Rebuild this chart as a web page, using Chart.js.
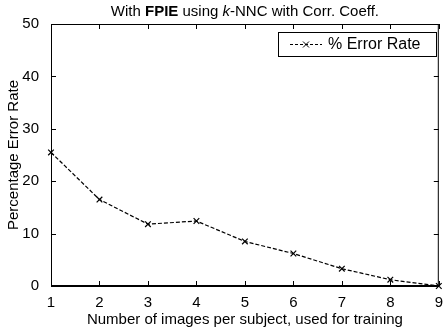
<!DOCTYPE html>
<html>
<head>
<meta charset="utf-8">
<script src="https://cdn.jsdelivr.net/npm/chart.js@4/dist/chart.umd.min.js"></script>
<style>
  body { margin: 0; background: #fff; }
  canvas { display: block; }
</style>
</head>
<body>
<canvas id="errChart" width="444" height="332"></canvas>
<script>
const trainImages = [1, 2, 3, 4, 5, 6, 7, 8, 9];
const errorRate = [25.5, 16.5, 11.8, 12.4, 8.5, 6.2, 3.3, 1.2, 0];
const yTicks = [0, 10, 20, 30, 40, 50];
const seriesLabel = '% Error Rate';

const FONT = '"Liberation Sans", Arial, Helvetica, sans-serif';

// MATLAB-like box with inward ticks, title and legend
const matlabFrame = {
    id: 'matlabFrame',
    afterDatasetsDraw(chart) {
        const { ctx, chartArea: a, scales } = chart;
        const x = scales.x, y = scales.y;
        const tl = 5;
        ctx.save();
        ctx.strokeStyle = '#000';
        ctx.lineWidth = 1;
        ctx.strokeRect(a.left + 0.5, a.top + 0.5, a.right - a.left - 1, a.bottom - a.top);
        ctx.beginPath();
        trainImages.forEach(v => {
            const px = Math.round(x.getPixelForValue(v)) + 0.5;
            ctx.moveTo(px, a.bottom); ctx.lineTo(px, a.bottom - tl);
            ctx.moveTo(px, a.top); ctx.lineTo(px, a.top + tl);
        });
        yTicks.forEach(v => {
            const py = Math.round(y.getPixelForValue(v)) + 0.5;
            ctx.moveTo(a.left, py); ctx.lineTo(a.left + tl, py);
            ctx.moveTo(a.right, py); ctx.lineTo(a.right - tl, py);
        });
        ctx.stroke();
        // bottom axis drawn a bit heavier
        ctx.lineWidth = 2;
        ctx.beginPath();
        ctx.moveTo(a.left, a.bottom); ctx.lineTo(a.right, a.bottom);
        ctx.stroke();

        // title with mixed styles
        const parts = [
            ['With ', 'normal 15px ' + FONT],
            ['FPIE', 'bold 15px ' + FONT],
            [' using ', 'normal 15px ' + FONT],
            ['k', 'italic 15px ' + FONT],
            ['-NNC with Corr. Coeff.', 'normal 15px ' + FONT]
        ];
        let total = 0;
        parts.forEach(p => { ctx.font = p[1]; total += ctx.measureText(p[0]).width; });
        let tx = (a.left + a.right) / 2 - total / 2;
        ctx.fillStyle = '#000';
        ctx.textBaseline = 'middle';
        ctx.textAlign = 'left';
        parts.forEach(p => { ctx.font = p[1]; ctx.fillText(p[0], tx, 12); tx += ctx.measureText(p[0]).width; });

        // legend box
        const lx = 278, ly = 32, lw = 158, lh = 24;
        ctx.fillStyle = '#fff';
        ctx.fillRect(lx, ly, lw, lh);
        ctx.lineWidth = 1;
        ctx.strokeRect(lx + 0.5, ly + 0.5, lw, lh);
        const my = ly + lh / 2 + 0.5;
        ctx.setLineDash([3, 2]);
        ctx.beginPath();
        ctx.moveTo(290, my); ctx.lineTo(322, my);
        ctx.stroke();
        ctx.setLineDash([]);
        ctx.beginPath();
        ctx.moveTo(303, my - 3); ctx.lineTo(309, my + 3);
        ctx.moveTo(303, my + 3); ctx.lineTo(309, my - 3);
        ctx.stroke();
        ctx.fillStyle = '#000';
        ctx.font = '16px ' + FONT;
        ctx.fillText(seriesLabel, 328, my);
        ctx.restore();
    }
};

new Chart(document.getElementById('errChart').getContext('2d'), {
    type: 'line',
    data: {
        labels: trainImages,
        datasets: [{
            label: seriesLabel,
            data: errorRate,
            borderColor: '#000',
            borderWidth: 1.2,
            borderDash: [4, 2],
            pointStyle: 'crossRot',
            pointRadius: 4,
            pointBorderColor: '#000',
            pointBorderWidth: 1.2,
            fill: false,
            tension: 0,
            clip: false
        }]
    },
    options: {
        responsive: false,
        animation: false,
        layout: { padding: { top: 24, right: 3, left: 0, bottom: 0 } },
        plugins: {
            legend: { display: false },
            title: { display: false },
            tooltip: { enabled: false }
        },
        scales: {
            x: {
                type: 'linear',
                min: 1,
                max: 9,
                grid: { display: false },
                border: { display: false },
                ticks: {
                    stepSize: 1,
                    padding: 0,
                    color: '#000',
                    font: { family: FONT, size: 15 }
                },
                title: {
                    display: true,
                    text: 'Number of images per subject, used for training',
                    color: '#000',
                    font: { family: FONT, size: 15 },
                    padding: { top: 0, bottom: 3 }
                },
                afterFit(scale) {
                    scale.height = 46;
                    scale.paddingLeft = 0;
                    scale.paddingRight = 0;
                }
            },
            y: {
                min: 0,
                max: 50,
                grid: { display: false },
                border: { display: false },
                afterBuildTicks(scale) {
                    scale.ticks = yTicks.map(v => ({ value: v }));
                },
                ticks: {
                    padding: 4,
                    color: '#000',
                    font: { family: FONT, size: 15 }
                },
                title: {
                    display: true,
                    text: 'Percentage Error Rate',
                    color: '#000',
                    font: { family: FONT, size: 15 },
                    padding: { top: 5, bottom: 0 }
                },
                afterFit(scale) {
                    scale.width = 51;
                    scale.paddingTop = 0;
                    scale.paddingBottom = 0;
                }
            }
        }
    },
    plugins: [matlabFrame]
});
</script>
</body>
</html>
